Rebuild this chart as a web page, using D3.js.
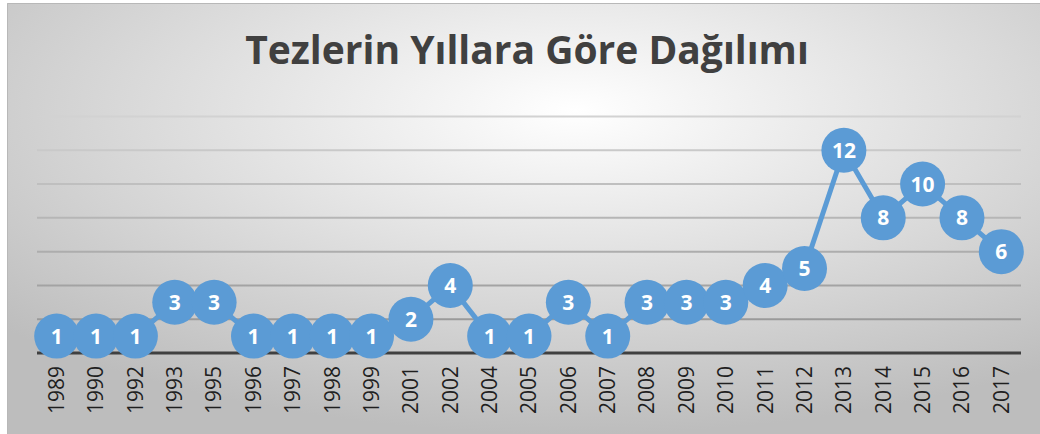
<!DOCTYPE html>
<meta charset="utf-8">
<script src="https://d3js.org/d3.v7.min.js"></script>
<style>
  body { margin: 0; background: #fff; }
  text { font-family: "Open Sans", sans-serif; }
</style>
<div id="chart"></div>
<script>
  var width = 1040
  var height = 434

  // data
  var years = ["1989","1990","1992","1993","1995","1996","1997","1998","1999","2001","2002","2004","2005",
               "2006","2007","2008","2009","2010","2011","2012","2013","2014","2015","2016","2017"]
  var counts = [1,1,1,3,3,1,1,1,1,2,4,1,1,3,1,3,3,3,4,5,12,8,10,8,6]
  var gridValues = [2,4,6,8,10,12,14]

  var data = years.map(function(y, i){ return { year: y, value: counts[i] } })

  var svg = d3.select("#chart")
    .append("svg")
      .attr("width", width)
      .attr("height", height)

  var defs = svg.append("defs")
  var grad = defs.append("radialGradient")
      .attr("id", "bg")
      .attr("cx", "55%").attr("cy", "25%").attr("r", "75%")
  grad.append("stop").attr("offset", "0%").attr("stop-color", "#ffffff")
  grad.append("stop").attr("offset", "100%").attr("stop-color", "#bdbdbd")

  // chart frame
  svg.append("rect")
      .attr("x", 7).attr("y", 3)
      .attr("width", width - 7).attr("height", height - 3)
      .style("fill", "url(#bg)")
  svg.append("path")
      .attr("d", "M7.5," + height + "V3.5H" + width)
      .style("fill", "none")
      .style("stroke", "#b8b8b8")

  var x = d3.scaleBand()
    .domain(years)
    .range([37, 1021])

  var y = d3.scaleLinear()
    .domain([0, 14])
    .range([353, 116.5])

  var gridColor = d3.scaleLinear()
    .domain([14, 2])
    .range(["#d2d2d2", "#9a9a9a"])

  // gridlines
  svg.append("g")
    .selectAll("line")
    .data(gridValues)
    .enter()
    .append("line")
      .attr("x1", 37).attr("x2", 1021)
      .attr("y1", function(d){ return y(d) })
      .attr("y2", function(d){ return y(d) })
      .style("stroke", function(d){ return gridColor(d) })
      .style("stroke-width", 2)

  // x axis
  svg.append("line")
      .attr("x1", 37).attr("x2", 1021)
      .attr("y1", y(0)).attr("y2", y(0))
      .style("stroke", "#404040")
      .style("stroke-width", 3)

  svg.append("g")
    .selectAll("text")
    .data(years)
    .enter()
    .append("text")
      .attr("transform", function(d){ return "translate(" + (x(d) + x.bandwidth() / 2) + ",366) rotate(-90)" })
      .attr("dy", "0.35em")
      .attr("text-anchor", "end")
      .style("font-size", "21px")
      .style("fill", "#1f1f1f")
      .text(function(d){ return d })

  // line
  var line = d3.line()
    .x(function(d){ return x(d.year) + x.bandwidth() / 2 })
    .y(function(d){ return y(d.value) })

  svg.append("path")
      .datum(data)
      .attr("d", line)
      .style("fill", "none")
      .style("stroke", "#5b9bd5")
      .style("stroke-width", 5)
      .style("stroke-linejoin", "round")

  var pts = svg.append("g")
    .selectAll("g")
    .data(data)
    .enter()
    .append("g")
      .attr("transform", function(d){ return "translate(" + (x(d.year) + x.bandwidth() / 2) + "," + y(d.value) + ")" })

  pts.append("circle")
      .attr("r", 22.5)
      .style("fill", "#5b9bd5")

  pts.append("text")
      .attr("text-anchor", "middle")
      .attr("dy", "0.36em")
      .style("font-size", "21px")
      .style("font-weight", "bold")
      .style("fill", "#ffffff")
      .text(function(d){ return d.value })

  // title
  svg.append("text")
      .attr("x", 527)
      .attr("y", 64)
      .attr("text-anchor", "middle")
      .style("font-size", "39px")
      .style("font-weight", "bold")
      .style("fill", "#404040")
      .text("Tezlerin Yıllara Göre Dağılımı")
</script>
